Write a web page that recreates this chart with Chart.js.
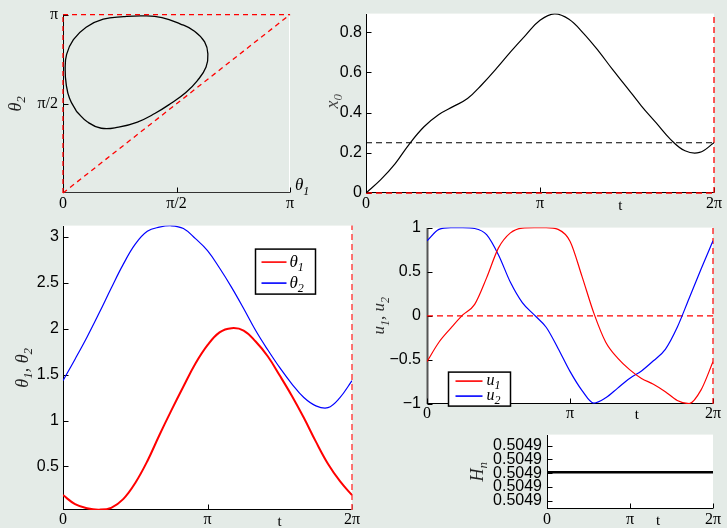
<!DOCTYPE html>
<html>
<head>
<meta charset="utf-8">
<script src="https://cdn.jsdelivr.net/npm/chart.js@4.4.1/dist/chart.umd.min.js"></script>
<style>
  html, body { margin: 0; padding: 0; background: #e4ebe7; }
  #wrap { position: relative; width: 727px; height: 528px; overflow: hidden; background: #e4ebe7; }
  canvas { position: absolute; }
</style>
</head>
<body>
<div id="wrap">
  <canvas id="cPhase" width="310" height="215" style="left:0;top:0"></canvas>
  <canvas id="cX0" width="417" height="215" style="left:310px;top:0"></canvas>
  <canvas id="cTheta" width="365" height="316" style="left:0;top:212px"></canvas>
  <canvas id="cU" width="362" height="208" style="left:365px;top:212px"></canvas>
  <canvas id="cH" width="267" height="108" style="left:460px;top:420px"></canvas>
</div>
<script>
const PI = Math.PI;

// sample instants: 25 evenly spaced times over one period [0, 2π]
const tGrid = Array.from({ length: 25 }, (_, k) => (k * 2 * PI) / 24);

// joint angles over one period
const theta1 = [0.188, 0.09, 0.045, 0.03, 0.05, 0.144, 0.32, 0.557, 0.84, 1.11, 1.37, 1.62, 1.82,
                1.96, 2.005, 1.98, 1.86, 1.70, 1.49, 1.27, 1.03, 0.77, 0.53, 0.34, 0.188];
const theta2 = [1.434, 1.668, 1.91, 2.17, 2.44, 2.70, 2.92, 3.06, 3.105, 3.12, 3.09, 2.98, 2.85,
                2.66, 2.45, 2.22, 1.98, 1.77, 1.575, 1.40, 1.25, 1.16, 1.14, 1.25, 1.434];

// base position
const x0 = [0, 0.065, 0.145, 0.245, 0.33, 0.39, 0.43, 0.47, 0.54, 0.62, 0.705, 0.785, 0.86,
            0.892, 0.865, 0.795, 0.71, 0.615, 0.525, 0.433, 0.35, 0.267, 0.21, 0.202, 0.25];
const x0Level = 0.25;

// controls
const u1 = [-0.52, -0.30, -0.14, 0.01, 0.13, 0.43, 0.77, 0.94, 0.995, 1.0, 1.0, 0.98, 0.846,
            0.45, 0.03, -0.30, -0.48, -0.61, -0.71, -0.775, -0.86, -0.96, -0.995, -0.84, -0.52];
const u2 = [0.85, 0.98, 1.0, 1.0, 0.99, 0.92, 0.69, 0.38, 0.15, 0.01, -0.13, -0.37, -0.63,
            -0.845, -0.99, -0.93, -0.82, -0.71, -0.625, -0.51, -0.38, -0.13, 0.20, 0.53, 0.85];

// Hamiltonian along the orbit
const hnTimes = [0, PI / 2, PI, 3 * PI / 2, 2 * PI];
const hnValues = [0.504900007, 0.504900007, 0.504900007, 0.504900007, 0.504900007];

// ticks
const tTicks = [0, PI, 2 * PI];
const tTickLabels = ['0', 'π', '2π'];
const angleXTicks = [0, PI / 2, PI];
const angleXTickLabels = ['0', 'π/2', 'π'];
const angleYTicks = [PI / 2, PI];
const angleYTickLabels = ['π/2', 'π'];
const x0Ticks = [0, 0.2, 0.4, 0.6, 0.8];
const x0TickLabels = ['0', '0.2', '0.4', '0.6', '0.8'];
const thetaTicks = [0.5, 1, 1.5, 2, 2.5, 3];
const thetaTickLabels = ['0.5', '1', '1.5', '2', '2.5', '3'];
const uTicks = [-1, -0.5, 0, 0.5, 1];
const uTickLabels = ['\u22121', '\u22120.5', '0', '0.5', '1'];
const hnTicks = [0.5048998, 0.5048999, 0.5049, 0.5049001, 0.5049002];

// axis limits
const x0Range = [0, 0.893];
const thetaRange = [0.026, 3.122];
const uRange = [-1, 1];
const hnRange = [0.50489974, 0.50490028];

const RED = '#ff0000', BLUE = '#0000ff', BLACK = '#000000';
const SANS = '"Liberation Sans", Arial, sans-serif';
const SERIF = '"Liberation Serif", "DejaVu Serif", serif';

const pairs = (xs, ys) => ys.map((y, i) => ({ x: xs[i], y }));

// italic serif text with "_c" subscripts
function drawRich(ctx, str, x, y, size, align, color) {
  const parts = [];
  for (let i = 0; i < str.length; i++) {
    if (str[i] === '_' && i + 1 < str.length) { parts.push({ s: str[i + 1], sub: true }); i++; }
    else parts.push({ s: str[i], sub: false });
  }
  const fontFor = p => `italic ${p.sub ? Math.round(size * 0.72) : size}px ${SERIF}`;
  let w = 0;
  parts.forEach(p => { ctx.font = fontFor(p); p.w = ctx.measureText(p.s).width; w += p.w; });
  let cx = align === 'center' ? x - w / 2 : align === 'right' ? x - w : x;
  ctx.fillStyle = color || BLACK;
  ctx.textBaseline = 'middle';
  ctx.textAlign = 'left';
  parts.forEach(p => {
    ctx.font = fontFor(p);
    ctx.fillText(p.s, cx, p.sub ? y + size * 0.32 : y);
    cx += p.w;
  });
}

const panelDecor = {
  id: 'panelDecor',
  beforeDraw(chart, args, o) {
    if (!o.fill) return;
    const a = chart.chartArea, ctx = chart.ctx;
    ctx.save();
    ctx.fillStyle = o.fill;
    ctx.fillRect(a.left, a.top, a.right - a.left, a.bottom - a.top);
    ctx.restore();
  },
  beforeDatasetsDraw(chart, args, o) {
    const a = chart.chartArea, ctx = chart.ctx;
    const L = Math.round(a.left) + 0.5, R = Math.round(a.right) - 0.5;
    const T = Math.round(a.top), B = Math.round(a.bottom) - 0.5;
    ctx.save();
    const seg = (x1, y1, x2, y2, c, w) => {
      ctx.strokeStyle = c; ctx.lineWidth = w || 1;
      ctx.beginPath(); ctx.moveTo(x1, y1); ctx.lineTo(x2, y2); ctx.stroke();
    };
    if (o.rightAxis) seg(R, T, R, B, o.rightAxis);
    if (o.leftAxis) seg(L, T, L, B + 0.5, o.leftAxis, o.leftWidth);
    if (o.bottomAxis) seg(L - 0.5, B, R + 0.5, B, o.bottomAxis);
    const xs = chart.scales.x, ys = chart.scales.y;
    xs.ticks.forEach(t => {
      const px = Math.round(xs.getPixelForValue(t.value)) + 0.5;
      seg(px, B, px, B - 5, BLACK);
    });
    ys.ticks.forEach(t => {
      const py = Math.round(ys.getPixelForValue(t.value)) + 0.5;
      seg(L, py, L + 5, py, BLACK);
    });
    ctx.restore();
  },
  afterDraw(chart, args, o) {
    const a = chart.chartArea, ctx = chart.ctx;
    ctx.save();
    if (o.tLabelAt !== undefined) {
      const px = chart.scales.x.getPixelForValue(o.tLabelAt);
      ctx.font = `15px ${SERIF}`;
      ctx.fillStyle = BLACK; ctx.textAlign = 'center'; ctx.textBaseline = 'middle';
      ctx.fillText('t', px, a.bottom + o.tLabelDy);
    }
    if (o.yTitle) {
      ctx.save();
      ctx.translate(a.left - o.yTitle.dx, (a.top + a.bottom) / 2 + (o.yTitle.dy || 0));
      ctx.rotate(-PI / 2);
      drawRich(ctx, o.yTitle.text, 0, 0, o.yTitle.size, 'center', o.yTitle.color || '#222');
      ctx.restore();
    }
    if (o.xEndTitle) {
      drawRich(ctx, o.xEndTitle.text, a.right + o.xEndTitle.dx, a.bottom + o.xEndTitle.dy,
               o.xEndTitle.size, 'left', BLACK);
    }
    if (o.legend) {
      const g = o.legend;
      const bx = a.left + g.x + 0.5, by = a.top + g.y + 0.5;
      ctx.fillStyle = '#ffffff';
      ctx.fillRect(bx, by, g.w, g.h);
      ctx.strokeStyle = BLACK; ctx.lineWidth = 1.5;
      ctx.strokeRect(bx, by, g.w, g.h);
      g.rows.forEach((di, r) => {
        const ds = chart.data.datasets[di];
        const yy = by + g.rowY[r];
        ctx.strokeStyle = ds.borderColor; ctx.lineWidth = 1.6;
        ctx.beginPath(); ctx.moveTo(bx + g.lineX[0], yy); ctx.lineTo(bx + g.lineX[1], yy); ctx.stroke();
        drawRich(ctx, ds.label, bx + g.textX, yy, g.size, 'left', BLACK);
      });
    }
    ctx.restore();
  }
};
Chart.register(panelDecor);

function scaleCfg(range, ticks, labels, size, font, fontSize, pad) {
  return {
    type: 'linear',
    min: range[0], max: range[1],
    grid: { display: false, drawTicks: false },
    border: { display: false },
    afterBuildTicks: s => { s.ticks = ticks.map(v => ({ value: v })); },
    afterFit: s => { if (s.isHorizontal()) s.height = size; else s.width = size; },
    ticks: {
      autoSkip: false, maxRotation: 0, minRotation: 0, padding: pad, color: BLACK,
      font: { family: font, size: fontSize },
      callback: (v, i) => labels[i]
    }
  };
}

function baseOptions(padding, xScale, yScale, decor) {
  return {
    responsive: false, animation: false, devicePixelRatio: 1,
    layout: { padding, autoPadding: false },
    events: [],
    plugins: { legend: { display: false }, tooltip: { enabled: false }, panelDecor: decor },
    elements: { point: { radius: 0 } },
    scales: { x: xScale, y: yScale }
  };
}

const dashed = (data, color, width, dash) => ({
  data, borderColor: color, borderWidth: width || 1.2, borderDash: dash || [6, 4],
  pointRadius: 0, fill: false, clip: false, tension: 0
});

// phase portrait θ2 versus θ1
new Chart(document.getElementById('cPhase'), {
  type: 'line',
  data: {
    datasets: [
      dashed([{ x: 0, y: 0 }, { x: 0, y: PI }], RED, 1.3, [5, 4]),
      dashed([{ x: 0, y: PI }, { x: PI, y: PI }], RED, 1.3, [5, 4]),
      dashed([{ x: 0, y: 0 }, { x: PI, y: PI }], RED, 1.3, [5, 4]),
      { label: 'orbit', data: pairs(theta1, theta2), borderColor: BLACK, borderWidth: 1.3,
        tension: 0.45, pointRadius: 0, fill: false }
    ]
  },
  options: baseOptions({ left: 0, top: 11, right: 20, bottom: 0 },
    scaleCfg([0, PI], angleXTicks, angleXTickLabels, 22, SERIF, 16, 1),
    scaleCfg([0, PI], angleYTicks, angleYTickLabels, 63, SERIF, 16, 5),
    { fill: null, leftAxis: BLACK, bottomAxis: '#333333', rightAxis: '#ffffff',
      yTitle: { text: 'θ_2', dx: 47, size: 18 },
      xEndTitle: { text: 'θ_1', dx: 5, dy: -7, size: 17 } })
});

// x0 versus t
new Chart(document.getElementById('cX0'), {
  type: 'line',
  data: {
    datasets: [
      dashed([{ x: 0, y: x0Level }, { x: 2 * PI, y: x0Level }], BLACK, 1.1, [6, 4]),
      { label: 'x_0', data: pairs(tGrid, x0), borderColor: BLACK, borderWidth: 1.2,
        tension: 0.4, pointRadius: 0, fill: false },
      dashed([{ x: 0, y: x0Range[0] }, { x: 2 * PI, y: x0Range[0] }], RED, 1.3),
      dashed([{ x: 2 * PI, y: x0Range[0] }, { x: 2 * PI, y: x0Range[1] }], RED, 1.3)
    ]
  },
  options: baseOptions({ left: 0, top: 11, right: 13, bottom: 0 },
    scaleCfg([0, 2 * PI], tTicks, tTickLabels, 22, SERIF, 16, 1),
    scaleCfg(x0Range, x0Ticks, x0TickLabels, 56, SANS, 16, 4),
    { fill: '#ffffff', leftAxis: BLACK, bottomAxis: BLACK,
      tLabelAt: 4.59, tLabelDy: 13,
      yTitle: { text: 'x_0', dx: 33, dy: -2, size: 18, color: '#444' } })
});

// θ1, θ2 versus t
new Chart(document.getElementById('cTheta'), {
  type: 'line',
  data: {
    datasets: [
      { label: 'θ_1', data: pairs(tGrid, theta1), borderColor: RED, borderWidth: 2,
        tension: 0.4, pointRadius: 0, fill: false },
      { label: 'θ_2', data: pairs(tGrid, theta2), borderColor: BLUE, borderWidth: 1.2,
        tension: 0.4, pointRadius: 0, fill: false },
      dashed([{ x: 2 * PI, y: thetaRange[0] }, { x: 2 * PI, y: thetaRange[1] }], '#ff5050', 1.6)
    ]
  },
  options: baseOptions({ left: 0, top: 11, right: 13, bottom: 0 },
    scaleCfg([0, 2 * PI], tTicks, tTickLabels, 18, SERIF, 16, 0),
    scaleCfg(thetaRange, thetaTicks, thetaTickLabels, 63, SANS, 16, 4),
    { fill: '#ffffff', leftAxis: BLACK, bottomAxis: BLACK,
      tLabelAt: 4.71, tLabelDy: 12,
      yTitle: { text: 'θ_1, θ_2', dx: 40, size: 18 },
      legend: { x: 192, y: 23, w: 60, h: 45, rows: [0, 1], rowY: [13, 34],
                lineX: [6, 31], textX: 34, size: 17 } })
});

// u1, u2 versus t
new Chart(document.getElementById('cU'), {
  type: 'line',
  data: {
    datasets: [
      { label: 'u_1', data: pairs(tGrid, u1), borderColor: RED, borderWidth: 1.2,
        cubicInterpolationMode: 'monotone', pointRadius: 0, fill: false },
      { label: 'u_2', data: pairs(tGrid, u2), borderColor: BLUE, borderWidth: 1.2,
        cubicInterpolationMode: 'monotone', pointRadius: 0, fill: false },
      dashed([{ x: 0, y: 0 }, { x: 2 * PI, y: 0 }], RED, 1.2),
      dashed([{ x: 2 * PI, y: uRange[0] }, { x: 2 * PI, y: uRange[1] }], RED, 1.2)
    ]
  },
  options: baseOptions({ left: 0, top: 11, right: 14, bottom: 0 },
    scaleCfg([0, 2 * PI], tTicks, tTickLabels, 16, SERIF, 16, 0),
    scaleCfg(uRange, uTicks, uTickLabels, 62, SANS, 16, 6),
    { fill: '#ffffff', leftAxis: '#555555', leftWidth: 2, bottomAxis: BLACK,
      tLabelAt: 4.61, tLabelDy: 11,
      yTitle: { text: 'u_1, u_2', dx: 47, size: 17, color: '#333' },
      legend: { x: 21, y: 144, w: 62, h: 34, rows: [0, 1], rowY: [9, 24],
                lineX: [7, 34], textX: 38, size: 16 } })
});

// Hn versus t
new Chart(document.getElementById('cH'), {
  type: 'line',
  data: {
    datasets: [
      { label: 'H_n', data: pairs(hnTimes, hnValues), borderColor: BLACK, borderWidth: 2.5,
        tension: 0, pointRadius: 0, fill: false }
    ]
  },
  options: baseOptions({ left: 0, top: 14, right: 14, bottom: 0 },
    scaleCfg([0, 2 * PI], tTicks, tTickLabels, 19, SERIF, 16, 1),
    scaleCfg(hnRange, hnTicks, hnTicks.map(v => v.toFixed(4)), 87, SANS, 16, 5),
    { fill: '#ffffff', leftAxis: BLACK, bottomAxis: BLACK,
      tLabelAt: 4.2, tLabelDy: 12,
      yTitle: { text: 'H_n', dx: 69, size: 18 } })
});
</script>
</body>
</html>
